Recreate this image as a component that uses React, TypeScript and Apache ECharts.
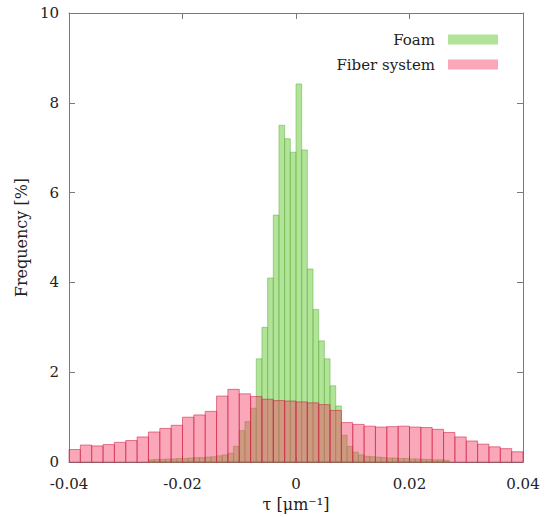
import React, { useEffect, useRef } from "react";
import * as echarts from "echarts";

// Fiber system: bins of width 0.002 from -0.04 to 0.04
const redStart = -0.04;
const redBinWidth = 0.002;
const redValues = [
  0.28, 0.38, 0.36, 0.39, 0.44, 0.48, 0.56, 0.67, 0.75, 0.82,
  1.0, 1.05, 1.13, 1.47, 1.62, 1.52, 1.46, 1.4, 1.37, 1.36,
  1.34, 1.32, 1.28, 1.15, 0.88, 0.84, 0.8, 0.78, 0.79, 0.8,
  0.78, 0.77, 0.73, 0.66, 0.56, 0.47, 0.4, 0.34, 0.3, 0.23,
];

// Foam: bins of width 0.001 from -0.026 to 0.027
const greenStart = -0.026;
const greenBinWidth = 0.001;
const greenValues = [
  0.05, 0.06, 0.06, 0.07, 0.07, 0.08, 0.08, 0.09, 0.1, 0.1,
  0.11, 0.12, 0.14, 0.16, 0.2, 0.35, 0.7, 0.9, 1.2, 2.3,
  3.0, 4.1, 5.5, 7.5, 7.2, 6.9, 8.42, 6.95, 4.3, 3.4,
  2.7, 2.3, 1.7, 1.25, 0.6, 0.35, 0.22, 0.16, 0.13, 0.12,
  0.11, 0.1, 0.09, 0.09, 0.08, 0.08, 0.07, 0.07, 0.06, 0.06,
  0.05, 0.05, 0.04,
];

const seriesNames = ["Foam", "Fiber system"];
const xTicks = { min: -0.04, max: 0.04, interval: 0.02 };
const yTicks = { min: 0, max: 10, interval: 2 };

const GREEN_FILL = "rgba(125,210,85,0.6)";
const GREEN_STROKE = "rgba(95,175,60,0.5)";
const RED_FILL = "rgba(242,60,100,0.45)";
const RED_STROKE = "rgba(205,30,65,0.55)";

function toBins(start: number, width: number, values: number[]) {
  return values.map((v, i) => {
    const x0 = +(start + i * width).toFixed(6);
    const x1 = +(start + (i + 1) * width).toFixed(6);
    return [x0, x1, v];
  });
}

function makeRender(fill: string, stroke: string) {
  return (params: any, api: any) => {
    const x0 = api.value(0);
    const x1 = api.value(1);
    const y = api.value(2);
    const pTop = api.coord([x0, y]);
    const pBot = api.coord([x1, 0]);
    return {
      type: "rect",
      shape: {
        x: pTop[0],
        y: pTop[1],
        width: pBot[0] - pTop[0],
        height: pBot[1] - pTop[1],
      },
      style: { fill, stroke, lineWidth: 1 },
    };
  };
}

const FONT = "DejaVu Serif";

export default function App() {
  const ref = useRef<HTMLDivElement>(null);
  useEffect(() => {
    if (!ref.current) return;
    const chart = echarts.init(ref.current, undefined, { renderer: "svg" });
    const axisLineStyle = { color: "#7a7a7a", width: 1 };
    const labelStyle = { color: "#222", fontFamily: FONT, fontSize: 15 };
    chart.setOption({
      animation: false,
      backgroundColor: "#ffffff",
      grid: { left: 69, right: 24, top: 13, bottom: 49, show: false },
      legend: {
        orient: "vertical",
        right: 44,
        top: 27,
        align: "right",
        itemWidth: 50,
        itemHeight: 10,
        itemGap: 10,
        selectedMode: false,
        textStyle: { color: "#222", fontFamily: FONT, fontSize: 15, padding: [0, 8, 0, 0] },
        data: [
          { name: seriesNames[0], icon: "rect", itemStyle: { color: GREEN_FILL } },
          { name: seriesNames[1], icon: "rect", itemStyle: { color: RED_FILL } },
        ],
      },
      xAxis: [
        {
          type: "value",
          min: xTicks.min,
          max: xTicks.max,
          interval: xTicks.interval,
          position: "bottom",
          name: "τ [μm⁻¹]",
          nameLocation: "middle",
          nameGap: 33,
          nameTextStyle: { color: "#222", fontFamily: FONT, fontSize: 16 },
          axisLine: { show: true, onZero: false, lineStyle: axisLineStyle },
          axisTick: { show: true, inside: true, length: 6, lineStyle: axisLineStyle },
          axisLabel: {
            ...labelStyle,
            margin: 14,
            formatter: (v: number) => (Math.abs(v) < 1e-9 ? "0" : v.toFixed(2)),
          },
          splitLine: { show: false },
        },
        {
          type: "value",
          min: xTicks.min,
          max: xTicks.max,
          interval: xTicks.interval,
          position: "top",
          axisLine: { show: true, onZero: false, lineStyle: axisLineStyle },
          axisTick: { show: true, inside: true, length: 6, lineStyle: axisLineStyle },
          axisLabel: { show: false },
          splitLine: { show: false },
        },
      ],
      yAxis: [
        {
          type: "value",
          min: yTicks.min,
          max: yTicks.max,
          interval: yTicks.interval,
          position: "left",
          name: "Frequency [%]",
          nameLocation: "middle",
          nameRotate: 90,
          nameGap: 36,
          nameTextStyle: { color: "#222", fontFamily: FONT, fontSize: 16 },
          axisLine: { show: true, onZero: false, lineStyle: axisLineStyle },
          axisTick: { show: true, inside: true, length: 6, lineStyle: axisLineStyle },
          axisLabel: { ...labelStyle, margin: 10 },
          splitLine: { show: false },
        },
        {
          type: "value",
          min: yTicks.min,
          max: yTicks.max,
          interval: yTicks.interval,
          position: "right",
          axisLine: { show: true, onZero: false, lineStyle: axisLineStyle },
          axisTick: { show: true, inside: true, length: 6, lineStyle: axisLineStyle },
          axisLabel: { show: false },
          splitLine: { show: false },
        },
      ],
      series: [
        {
          name: seriesNames[0],
          type: "custom",
          xAxisIndex: 0,
          yAxisIndex: 0,
          itemStyle: { color: GREEN_FILL },
          renderItem: makeRender(GREEN_FILL, GREEN_STROKE),
          encode: { x: [0, 1], y: 2 },
          data: toBins(greenStart, greenBinWidth, greenValues),
          z: 1,
        },
        {
          name: seriesNames[1],
          type: "custom",
          xAxisIndex: 0,
          yAxisIndex: 0,
          itemStyle: { color: RED_FILL },
          renderItem: makeRender(RED_FILL, RED_STROKE),
          encode: { x: [0, 1], y: 2 },
          data: toBins(redStart, redBinWidth, redValues),
          z: 2,
        },
      ],
    });
    return () => chart.dispose();
  }, []);
  return (
    <div
      ref={ref}
      style={{ position: "fixed", left: 0, top: 0, width: 547, height: 517, background: "#fff" }}
    />
  );
}
